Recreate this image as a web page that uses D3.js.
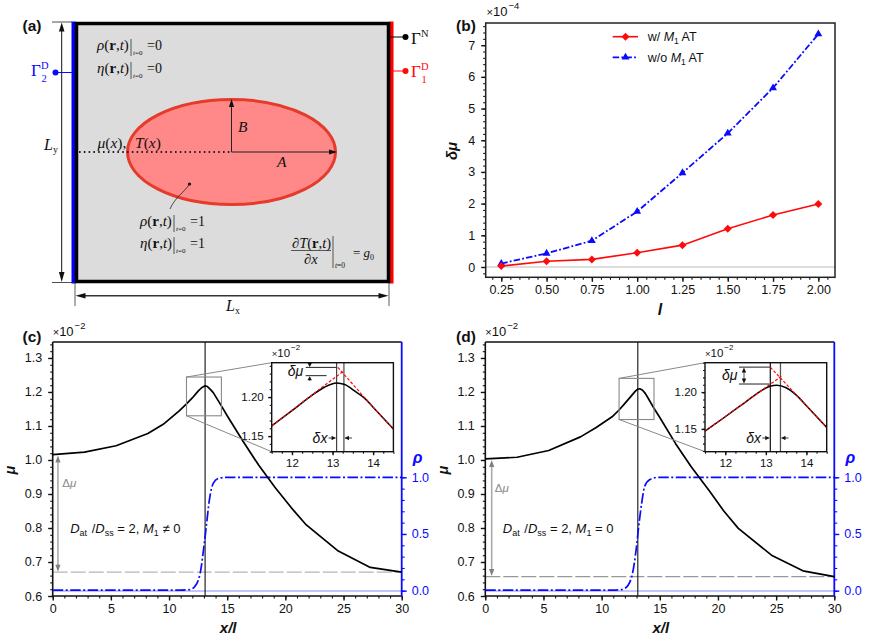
<!DOCTYPE html>
<html><head><meta charset="utf-8">
<script src="https://cdn.jsdelivr.net/npm/d3@7"></script>
<style>
html,body{margin:0;padding:0;background:#fff}
svg{display:block}
text{font-family:"Liberation Sans",Arial,sans-serif;fill:#111}
</style></head><body><div id="c"></div>
<script>
// ---------- data ----------
const lValues = [0.25,0.5,0.75,1,1.25,1.5,1.75,2];
const dmuWith = [0.03,0.18,0.24,0.45,0.69,1.21,1.64,1.99];
const dmuWithout = [0.11,0.43,0.83,1.75,2.97,4.22,5.65,7.35];
const bXTicks = [0.25,0.5,0.75,1,1.25,1.5,1.75,2];
const bYTicks = [0,1,2,3,4,5,6,7];

const muXc = [0,2.73,5.45,8.18,9.5,10.9,11.5,12,12.5,12.8,13.1,13.3,13.55,13.8,14,14.5,15,16.36,17.7,19.1,20.5,21.8,24.55,27.3,30];
const muYc = [1.016,1.023,1.042,1.078,1.105,1.145,1.165,1.1825,1.2025,1.2125,1.218,1.216,1.2075,1.198,1.187,1.159,1.13,1.055,0.985,0.92,0.86,0.809,0.732,0.684,0.67];
const muXd = [0,2.73,5.45,8.18,9.5,10.9,11.5,12,12.5,12.9,13.1,13.27,13.5,13.75,14,14.5,15,16.36,17.7,19.3,20.5,21.75,24.6,27.3,30];
const muYd = [1.003,1.008,1.028,1.068,1.095,1.127,1.147,1.1665,1.1865,1.2025,1.208,1.2095,1.206,1.196,1.1816,1.152,1.125,1.048,0.98,0.907,0.85,0.799,0.72,0.674,0.657];

const rhoXc = [0,5,11,11.8,12.2,12.67,13,13.2,13.47,13.8,14.25,15,20,30];
const rhoYc = [0.005,0.005,0.005,0.01,0.035,0.15,0.39,0.565,0.8,0.947,0.99,1,1,1];
const rhoXd = [0,5,11,11.6,12,12.58,13,13.2,13.44,13.7,14.15,14.87,20,30];
const rhoYd = [0.005,0.005,0.005,0.008,0.02,0.12,0.39,0.58,0.77,0.92,0.98,1,1,1];

const insetXc = [11.5,12,12.5,12.8,13.1,13.3,13.55,13.8,14,14.5];
const insetYc = [1.163,1.1825,1.2025,1.2125,1.218,1.216,1.2075,1.198,1.187,1.159];
const tanLeftXc = [11.5,12.76,13.28];
const tanLeftYc = [1.163,1.2133,1.2335];
const tanRightXc = [13.13,14,14.5];
const tanRightYc = [1.238,1.187,1.159];

const insetXd = [11.5,12,12.5,12.9,13.1,13.27,13.5,13.75,14,14.5];
const insetYd = [1.147,1.1665,1.1865,1.2025,1.208,1.2095,1.206,1.196,1.1816,1.152];
const tanLeftXd = [11.5,13.38];
const tanLeftYd = [1.147,1.2215];
const tanRightXd = [13.11,14,14.5];
const tanRightYd = [1.234,1.1816,1.152];

const muTicks = [0.6,0.7,0.8,0.9,1.0,1.1,1.2,1.3];
const rhoTicks = [0,0.5,1];
const xTicks = [0,5,10,15,20,25,30];
const insetXTicks = [12,13,14];
const insetYTicks = [1.15,1.20];

// ---------- helpers ----------
const W=872,H=640, SERIF='"Liberation Serif",serif', BLUE='#0a0aff', RED='#ff0a0a';
const svg=d3.select('#c').append('svg').attr('width',W).attr('height',H).attr('viewBox',`0 0 ${W} ${H}`);
function rich(x,y,runs,o={}){
  const t=svg.append('text').attr('x',x).attr('y',y).attr('font-size',o.size||12)
    .attr('fill',o.fill||'#111').style('fill',o.fill||'#111');
  if(o.family) t.style('font-family',o.family);
  if(o.rotate) t.attr('transform',`rotate(${o.rotate} ${x} ${y})`);
  if(o.anchor) t.attr('text-anchor',o.anchor);
  let cur=0;
  runs.forEach(r=>{
    if(typeof r==='string') r={t:r};
    const up=r.up||0;
    const ts=t.append('tspan').text(r.t).attr('dy',cur-up);
    if(r.dx) ts.attr('dx',r.dx);
    if(r.i) ts.attr('font-style','italic');
    if(r.b) ts.attr('font-weight','bold');
    if(r.s) ts.attr('font-size',r.s);
    cur=up;
  });
  return t;
}
function line(x1,y1,x2,y2,c='#111',w=1,dash){
  const l=svg.append('line').attr('x1',x1).attr('y1',y1).attr('x2',x2).attr('y2',y2).attr('stroke',c).attr('stroke-width',w);
  if(dash) l.attr('stroke-dasharray',dash);
  return l;
}
function head(x,y,dx,dy,len=8,w=3,c='#111'){ // tip at x,y pointing along dx,dy
  const px=-dy,py=dx, bx=x-dx*len, by=y-dy*len;
  svg.append('path').attr('d',`M${x},${y}L${bx+px*w},${by+py*w}L${bx-px*w},${by-py*w}Z`).attr('fill',c);
}
function zipped(xs,ys){return xs.map((x,i)=>[x,ys[i]]);}
function styleAxis(g,c='#111',w=1.4){
  g.selectAll('.domain').remove();
  g.selectAll('line').attr('stroke',c).attr('stroke-width',w);
  g.selectAll('text').style('font-family','"Liberation Sans",sans-serif').style('fill',c);
}
function range(a,b,s){const r=[];for(let v=a;v<=b+s/1e3;v+=s)r.push(+v.toFixed(4));return r;}
function axis(gen,transform,minor,major,fmt,fs,c,majorLen,minorLen,pad){
  const g1=svg.append('g').attr('transform',transform).call(gen().tickValues(minor).tickSize(minorLen).tickFormat(''));
  styleAxis(g1,c,1.1);
  const g2=svg.append('g').attr('transform',transform).call(gen().tickValues(major).tickSize(majorLen).tickPadding(pad).tickFormat(fmt));
  styleAxis(g2,c,1.4);
  g2.selectAll('text').attr('font-size',fs);
}
function times10(x,y,e,fs=13){
  rich(x,y,[{t:'×',s:fs-2},{t:'10',s:fs},{t:'−'+e,up:7,s:fs-3.5,dx:1}],{size:fs});
}

// ---------- panel (a) ----------
(function(){
  svg.append('rect').attr('x',76.5).attr('y',23).attr('width',311.5).attr('height',258.5).attr('fill','#dcdcdc');
  svg.append('rect').attr('x',71.5).attr('y',21.5).attr('width',4).attr('height',262).attr('fill','#0000ff');
  svg.append('rect').attr('x',389.5).attr('y',21.5).attr('width',4).attr('height',262).attr('fill','#ff0000');
  svg.append('rect').attr('x',76.5).attr('y',23.5).attr('width',312).attr('height',258).attr('fill','none').attr('stroke','#000').attr('stroke-width',3.5);
  const cx=231.5,cy=152;
  svg.append('ellipse').attr('cx',cx).attr('cy',cy).attr('rx',104).attr('ry',52.5).attr('fill','#ff8888').attr('stroke','#e63a2b').attr('stroke-width',3);
  line(79,cy,cx,cy,'#222',2,'1.6 3.2');
  line(cx,cy,335,cy,'#222',1); head(337,cy,1,0,8,2.6,'#111');
  line(cx,cy,cx,101,'#222',1); head(cx,99,0,-1,8,2.6,'#111');
  const M={family:SERIF,size:15.5};
  rich(97.5,148,[{t:'μ',i:1},'(',{t:'x',i:1},'),'],M);
  rich(135,148,[{t:'T',i:1},'(',{t:'x',i:1},')'],M);
  rich(238,132,[{t:'B',i:1}],M);
  rich(277,167,[{t:'A',i:1}],M);
  function cond(x,y,sym,val){
    rich(x,y,[{t:sym,i:1},'(',{t:'r',b:1},',',{t:'t',i:1},')'],{family:SERIF,size:15});
    line(x+34,y-11,x+34,y+6,'#333',.8);
    rich(x+36,y+5,[{t:'t',i:1},'=0'],{family:SERIF,size:7});
    rich(x+50,y,['='+val],{family:SERIF,size:14});
  }
  cond(97,50,'ρ',0); cond(97,73,'η',0); cond(140,226,'ρ',1); cond(140,248,'η',1);
  svg.append('circle').attr('cx',189.5).attr('cy',184).attr('r',1.6).attr('fill','#111');
  svg.append('path').attr('d','M189.5,184C183,194 176,196 170,209').attr('fill','none').attr('stroke','#222').attr('stroke-width',.8);
  rich(292,248,[{t:'∂',i:1},{t:'T',i:1},'(',{t:'r',b:1},',',{t:'t',i:1},')'],{family:SERIF,size:14.5});
  line(291,250.5,331,250.5,'#333',.8);
  rich(304,264,[{t:'∂',i:1},{t:'x',i:1}],{family:SERIF,size:14.5});
  line(333,236,333,268,'#333',.8);
  rich(335,268,[{t:'t',i:1},'=0'],{family:SERIF,size:7.5});
  rich(353,257,['= ',{t:'g',i:1},{t:'0',s:8,up:-3}],{family:SERIF,size:13});
  // dimensions
  line(52,22,72,22,'#222',.8); line(52,282.5,72,282.5,'#222',.8);
  line(61.7,30,61.7,274,'#111',1); head(61.7,22.5,0,-1,9,2.8); head(61.7,282,0,1,10,2.8);
  rich(44,150,[{t:'L',i:1},{t:'y',s:10,up:-3}],{family:SERIF,size:16});
  line(75,283,75,306,'#333',.8); line(389,283,389,306,'#333',.8);
  line(84,295.7,381,295.7,'#333',1.5); head(75.5,295.7,-1,0,10,2.8); head(388.5,295.7,1,0,10,2.8);
  rich(226,311,[{t:'L',i:1},{t:'x',s:10,up:-3}],{family:SERIF,size:16});
  // boundaries
  function bnd(x1,x2,y,c){line(x1,y,x2,y,c,1);svg.append('circle').attr('cx',x2).attr('cy',y).attr('r',3).attr('fill',c);}
  bnd(72,55.5,72.5,BLUE); bnd(388,405.5,37,'#000'); bnd(392,405.5,71,RED);
  function gamma(x,y,sup,sub,c){
    rich(x,y,['Γ'],{family:SERIF,size:17,fill:c});
    rich(x+10,y-7,[sup],{family:SERIF,size:10.5,fill:c});
    if(sub) rich(x+10.5,y+6,[sub],{family:SERIF,size:10.5,fill:c});
  }
  gamma(31,76,'D','2',BLUE); gamma(411,44,'N',null,'#111'); gamma(411,77,'D','1',RED);
})();

// ---------- panel (b) ----------
(function(){
  const L=485.7,R=835,T=23,B=277.3;
  const x=d3.scaleLinear().domain([0.164,2.092]).range([L,R]);
  const y=d3.scaleLinear().domain([-0.325,7.70]).range([B,T]);
  line(L,y(0),R,y(0),'#bbb',1);
  axis(()=>d3.axisBottom(x),`translate(0,${B})`,range(0.2,2.05,0.05),bXTicks,d3.format('.2f'),12.5,'#111',4.5,2.5,3.5);
  axis(()=>d3.axisLeft(y),`translate(${L},0)`,range(-0.2,7.6,0.2),bYTicks,d3.format('d'),12.5,'#111',4.5,2.5,6);
  svg.append('rect').attr('x',L).attr('y',T).attr('width',R-L).attr('height',B-T).attr('fill','none').attr('stroke','#222').attr('stroke-width',1.5);
  const ln=d3.line().x(d=>x(d[0])).y(d=>y(d[1]));
  const DD='6.5 2.2 1.8 2.2';
  svg.append('path').attr('d',ln(zipped(lValues,dmuWithout))).attr('fill','none').attr('stroke',BLUE).attr('stroke-width',1.8).attr('stroke-dasharray',DD);
  svg.append('path').attr('d',ln(zipped(lValues,dmuWith))).attr('fill','none').attr('stroke',RED).attr('stroke-width',1.6);
  const tri=d3.symbol().type(d3.symbolTriangle).size(27), dia=d3.symbol().type(d3.symbolSquare).size(32);
  lValues.forEach((l,i)=>{
    svg.append('path').attr('d',tri()).attr('transform',`translate(${x(l)},${y(dmuWithout[i])})`).attr('fill',BLUE);
    svg.append('path').attr('d',dia()).attr('transform',`translate(${x(l)},${y(dmuWith[i])}) rotate(45)`).attr('fill',RED);
  });
  line(612.7,36.7,638,36.7,RED,1.6);
  svg.append('path').attr('d',dia()).attr('transform','translate(625.5,36.7) rotate(45)').attr('fill',RED);
  line(612.7,57.3,638,57.3,BLUE,1.8).attr('stroke-dasharray',DD);
  svg.append('path').attr('d',tri()).attr('transform','translate(625.5,57.3)').attr('fill',BLUE);
  rich(647.7,41,['w/ ',{t:'M',i:1},{t:'1',s:8.5,up:-3},' AT'],{size:12.5});
  rich(647.7,62,['w/o ',{t:'M',i:1},{t:'1',s:8.5,up:-3},' AT'],{size:12.5});
  times10(486.5,16,4);
  rich(456,30.5,[{t:'(b)',b:1}],{size:15.5});
  rich(457,151,[{t:'δμ',b:1,i:1}],{size:15,rotate:-90,anchor:'middle'});
  rich(660,315,[{t:'l',b:1,i:1}],{size:16,anchor:'middle'});
})();

// ---------- panels (c), (d) ----------
function bottomPanel(p){
  const T=342,B=596,L=p.x0,R=p.x0+349;
  const x=d3.scaleLinear().domain([0,30]).range([L,R]);
  const y=d3.scaleLinear().domain([0.6,1.347]).range([B,T]);
  const yr=d3.scaleLinear().domain([-0.047,2.193]).range([B,T]);
  line(L,yr(-0.004),R,yr(-0.004),'#c4c4ff',2);
  line(L,y(p.base),R,y(p.base),p.baseColor,1.2,'15 3');
  axis(()=>d3.axisBottom(x),`translate(0,${B})`,range(0,30,1),xTicks,d3.format('d'),12.5,'#111',4.5,2.5,3.5);
  axis(()=>d3.axisLeft(y),`translate(${L},0)`,range(0.6,1.34,0.02),muTicks,d3.format('.1f'),12.5,'#111',4.5,2.5,6);
  axis(()=>d3.axisRight(yr),`translate(${R},0)`,range(0,1,0.1),rhoTicks,d3.format('.1f'),12.5,BLUE,5,3,5);
  line(L,T,R,T,'#111',1.6); line(L,T,L,B,'#111',1.6); line(L,B,R,B,'#111',1.6);
  line(R,T,R,B,BLUE,1.8);
  const lm=d3.line().x(d=>x(d[0])).y(d=>y(d[1]));
  const lr=d3.line().x(d=>x(d[0])).y(d=>yr(d[1])).curve(d3.curveMonotoneX);
  line(x(p.xv),T,x(p.xv),B,'#111',1.1);
  svg.append('path').attr('d',lr(zipped(p.rhoX,p.rhoY))).attr('fill','none').attr('stroke',BLUE).attr('stroke-width',1.7).attr('stroke-dasharray','10.5 2.5 2 2.5');
  svg.append('path').attr('d',lm(zipped(p.muX,p.muY))).attr('fill','none').attr('stroke','#000').attr('stroke-width',1.7).attr('stroke-linejoin','round');
  // Delta mu arrow
  const ax=x(p.arrowX);
  line(ax,y(p.muY[0])+8,ax,y(p.base)-7,'#aaa',1.6);
  head(ax,y(p.muY[0])+1,0,-1,7,2.6,'#808080');
  head(ax,y(p.base)-.5,0,1,7,2.6,'#808080');
  rich(L+p.dLabelDx,p.dLabelY,['Δ',{t:'μ',i:1}],{size:11.5,fill:'#888'});
  rich(L+17.5,533,[{t:'D',i:1},{t:'at',s:9,up:-3},{t:' /',dx:1},{t:'D',i:1},{t:'ss',s:9,up:-3},' = 2, ',{t:'M',i:1},{t:'1',s:9,up:-3},' '+p.cond],{size:13});
  // zoom box + inset
  const bx0=x(11.5),bx1=x(14.5),by0=y(p.iy[1]),by1=y(p.iy[0]);
  const iL=p.iL,iR=p.iL+121.7,iT=362.7,iB=451.7;
  line(bx0,by0,iL,iT,'#888',1); line(bx0,by1,iL,iB,'#888',1);
  svg.append('rect').attr('x',bx0).attr('y',by0).attr('width',bx1-bx0).attr('height',by1-by0).attr('fill','none').attr('stroke','#888').attr('stroke-width',1.1);
  const ix=d3.scaleLinear().domain([11.5,14.5]).range([iL,iR]);
  const iy=d3.scaleLinear().domain(p.iy).range([iB,iT]);
  svg.append('rect').attr('x',iL).attr('y',iT).attr('width',iR-iL).attr('height',iB-iT).attr('fill','#fff');
  axis(()=>d3.axisBottom(ix),`translate(0,${iB})`,range(11.5,14.5,0.25),insetXTicks,d3.format('d'),11.5,'#111',3.5,2,4);
  axis(()=>d3.axisLeft(iy),`translate(${iL},0)`,range(1.13,p.iy[1],0.01).concat(p.extraMinor),insetYTicks,d3.format('.2f'),11.5,'#111',3.5,2,4.5);
  const il=d3.line().x(d=>ix(d[0])).y(d=>iy(d[1]));
  const ilc=d3.line().x(d=>ix(d[0])).y(d=>iy(d[1])).curve(d3.curveMonotoneX);
  line(ix(p.xv),iT,ix(p.xv),iB,p.vColor,1.2);
  line(ix(p.xv2),iT,ix(p.xv2),iB,'#555',1.3);
  svg.append('path').attr('d',ilc(zipped(p.insX,p.insY))).attr('fill','none').attr('stroke','#000').attr('stroke-width',1.5);
  [[p.tlX,p.tlY],[p.trX,p.trY]].forEach(([a,b])=>svg.append('path').attr('d',il(zipped(a,b))).attr('fill','none').attr('stroke',RED).attr('stroke-width',1.2).attr('stroke-dasharray','3 1.8'));
  svg.append('rect').attr('x',iL).attr('y',iT).attr('width',iR-iL).attr('height',iB-iT).attr('fill','none').attr('stroke','#111').attr('stroke-width',1.4);
  const hx0=p.iL+34, hs=iy(p.dTop), he=iy(p.dBot);
  line(hx0,hs,ix(p.xv),hs,'#222',1); line(hx0,he,ix(p.xv)-p.hShort,he,'#222',1);
  const ah=hx0+p.arrowOff;
  if(p.outside){
    line(ah,iT+1,ah,hs-3,'#222',.8); head(ah,hs-.5,0,1,4,2.2);
    line(ah,he+4,ah,he+5,'#222',.8); head(ah,he+.5,0,-1,4,2.2);
  } else {
    line(ah,hs+3,ah,he-3,'#222',.8); head(ah,hs+.5,0,-1,5,2.2); head(ah,he-.5,0,1,5,2.2);
  }
  rich(iL+p.dmLabel,p.dmY,[{t:'δμ',i:1}],{size:14});
  const ya=438;
  line(ix(p.xv)-8,ya,ix(p.xv)-1,ya,'#222',.9); head(ix(p.xv)-1,ya,1,0,4,2.2);
  line(ix(p.xv2)+8,ya,ix(p.xv2)+1,ya,'#222',.9); head(ix(p.xv2)+1,ya,-1,0,4,2.2);
  rich(ix(p.xv)-24,442.5,[{t:'δ',i:1},{t:'x',i:1}],{size:14,anchor:'start'});
  times10(iL,356.7,2,11.5);
  times10(L,336,2);
  rich(p.labelX,341.5,[{t:p.label,b:1}],{size:15.5});
  rich(p.muLabelX,470,[{t:'μ',b:1,i:1}],{size:14.5,rotate:-90,anchor:'middle'});
  rich(R+16,462.5,[{t:'ρ',b:1,i:1}],{size:16,fill:BLUE,anchor:'middle'});
  rich((L+R)/2+1,633,[{t:'x/l',b:1,i:1}],{size:15,anchor:'middle'});
}
bottomPanel({x0:52.7,base:0.67,baseColor:'#b5b5b5',muX:muXc,muY:muYc,rhoX:rhoXc,rhoY:rhoYc,xv:13.1,xv2:13.28,arrowX:0.45,muLabelX:15,
  dLabelDx:9.5,dLabelY:487,cond:'≠ 0',iL:271.7,iy:[1.13,1.244],insX:insetXc,insY:insetYc,tlX:tanLeftXc,tlY:tanLeftYc,trX:tanRightXc,trY:tanRightYc,
  extraMinor:[],vColor:'#444',dTop:1.238,dBot:1.2274,hShort:10,outside:true,arrowOff:4,dmLabel:16,dmY:376,label:'(c)',labelX:22.5});
bottomPanel({x0:485.3,base:0.657,baseColor:'#999',muX:muXd,muY:muYd,rhoX:rhoXd,rhoY:rhoYd,xv:13.11,xv2:13.36,arrowX:0.55,muLabelX:448,
  dLabelDx:9.5,dLabelY:491.5,cond:'= 0',iL:705,iy:[1.119,1.24],insX:insetXd,insY:insetYd,tlX:tanLeftXd,tlY:tanLeftYd,trX:tanRightXd,trY:tanRightYd,
  extraMinor:[1.12],vColor:'#111',dTop:1.234,dBot:1.211,hShort:1,outside:false,arrowOff:5,dmLabel:17,dmY:380,label:'(d)',labelX:456});
rich(22.5,31,[{t:'(a)',b:1}],{size:15.5});
</script></body></html>
